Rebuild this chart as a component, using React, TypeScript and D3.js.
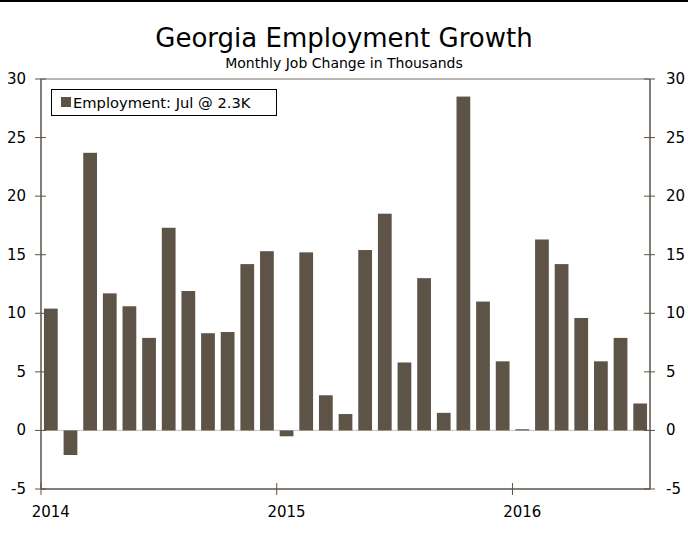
import React, { useEffect, useRef } from "react";
import * as d3 from "d3";

// Monthly job change, thousands (Jan 2014 - Jul 2016)
const months = d3.range(31).map((i) => new Date(2014, i, 1));
const jobChange = [
  10.4, -2.1, 23.7, 11.7, 10.6, 7.9, 17.3, 11.9, 8.3, 8.4, 14.2, 15.3,
  -0.5, 15.2, 3.0, 1.4, 15.4, 18.5, 5.8, 13.0, 1.5, 28.5, 11.0, 5.9,
  0.1, 16.3, 14.2, 9.6, 5.9, 7.9, 2.3,
];
const yTicks = [-5, 0, 5, 10, 15, 20, 25, 30];
const yearTicks = [0, 12, 24];
const legendLabel = "Employment: Jul @ 2.3K";

const W = 688;
const H = 536;
const barColor = "#5e5347";
const axisColor = "#5e5347";
const font = "'DejaVu Sans', Verdana, sans-serif";

const App: React.FC = () => {
  const svgRef = useRef<SVGSVGElement>(null);

  useEffect(() => {
    const svg = d3.select(svgRef.current);
    svg.selectAll("*").remove();

    const margin = { top: 79, right: 38, bottom: 47, left: 41 };
    const x = d3
      .scaleBand<number>()
      .domain(d3.range(jobChange.length))
      .range([margin.left, W - margin.right])
      .paddingInner(0.3)
      .paddingOuter(0.15);
    const y = d3.scaleLinear().domain([-5, 30]).range([H - margin.bottom, margin.top]);

    // thin black rule across the top
    svg.append("rect").attr("x", 0).attr("y", 0).attr("width", W).attr("height", 2).attr("fill", "#000");

    // title
    svg
      .append("text")
      .attr("x", W / 2)
      .attr("y", 47)
      .attr("text-anchor", "middle")
      .style("font-family", font)
      .style("font-size", "26px")
      .text("Georgia Employment Growth");

    svg
      .append("text")
      .attr("x", W / 2)
      .attr("y", 68)
      .attr("text-anchor", "middle")
      .style("font-family", font)
      .style("font-size", "14px")
      .text("Monthly Job Change in Thousands");

    const x0 = margin.left;
    const x1 = W - margin.right;

    // top border
    svg
      .append("line")
      .attr("x1", x0)
      .attr("x2", x1)
      .attr("y1", y(30))
      .attr("y2", y(30))
      .attr("stroke", "#a39c93")
      .attr("stroke-width", 1.5);

    // zero line
    svg
      .append("line")
      .attr("x1", x0)
      .attr("x2", x1)
      .attr("y1", y(0))
      .attr("y2", y(0))
      .attr("stroke", "#c8c4be")
      .attr("stroke-width", 1);

    // bars
    svg
      .append("g")
      .selectAll("rect")
      .data(jobChange)
      .join("rect")
      .attr("x", (_, i) => x(i)!)
      .attr("width", x.bandwidth())
      .attr("y", (d) => y(Math.max(0, d)))
      .attr("height", (d) => Math.abs(y(d) - y(0)))
      .attr("fill", barColor);

    // left & right axes
    [x0, x1].forEach((ax) => {
      svg
        .append("line")
        .attr("x1", ax)
        .attr("x2", ax)
        .attr("y1", y(30))
        .attr("y2", y(-5))
        .attr("stroke", axisColor)
        .attr("stroke-width", 1.5);
      svg
        .append("g")
        .selectAll("line")
        .data(yTicks)
        .join("line")
        .attr("x1", ax - 6)
        .attr("x2", ax + 5)
        .attr("y1", (d) => y(d))
        .attr("y2", (d) => y(d))
        .attr("stroke", axisColor)
        .attr("stroke-width", 1);
    });

    svg
      .append("g")
      .selectAll("text")
      .data(yTicks)
      .join("text")
      .attr("x", 26)
      .attr("y", (d) => y(d) + 5)
      .attr("text-anchor", "end")
      .style("font-family", font)
      .style("font-size", "15px")
      .text((d) => d);

    svg
      .append("g")
      .selectAll("text")
      .data(yTicks)
      .join("text")
      .attr("x", x1 + 16)
      .attr("y", (d) => y(d) + 5)
      .attr("text-anchor", "start")
      .style("font-family", font)
      .style("font-size", "15px")
      .text((d) => d);

    // bottom axis
    svg
      .append("line")
      .attr("x1", x0)
      .attr("x2", x1)
      .attr("y1", y(-5))
      .attr("y2", y(-5))
      .attr("stroke", axisColor)
      .attr("stroke-width", 1.5);

    // year ticks sit at the start of January, labels under the January bar
    const yearPos = (i: number) => x(i)! - x.step() * 0.15;

    svg
      .append("g")
      .selectAll("line")
      .data(yearTicks)
      .join("line")
      .attr("x1", (d) => yearPos(d))
      .attr("x2", (d) => yearPos(d))
      .attr("y1", y(-5) - 6)
      .attr("y2", y(-5) + 6)
      .attr("stroke", axisColor)
      .attr("stroke-width", 1);

    svg
      .append("g")
      .selectAll("text")
      .data(yearTicks)
      .join("text")
      .attr("x", (d) => x(d)! + x.bandwidth() / 2)
      .attr("y", 517)
      .attr("text-anchor", "middle")
      .style("font-family", font)
      .style("font-size", "15px")
      .text((d) => d3.timeFormat("%Y")(months[d]));

    // legend
    const lg = svg.append("g");
    lg.append("rect")
      .attr("x", 51.5)
      .attr("y", 89.5)
      .attr("width", 225)
      .attr("height", 26)
      .attr("fill", "#fff")
      .attr("stroke", "#000")
      .attr("stroke-width", 1);
    lg.append("rect").attr("x", 61).attr("y", 97).attr("width", 10).attr("height", 10).attr("fill", barColor);
    lg.append("text")
      .attr("x", 73)
      .attr("y", 108)
      .style("font-family", font)
      .style("font-size", "14.7px")
      .text(legendLabel);
  }, []);

  return (
    <div style={{ position: "absolute", left: 0, top: 0 }}>
      <svg ref={svgRef} width={W} height={H} style={{ display: "block", background: "#fff" }} />
    </div>
  );
};

export default App;
